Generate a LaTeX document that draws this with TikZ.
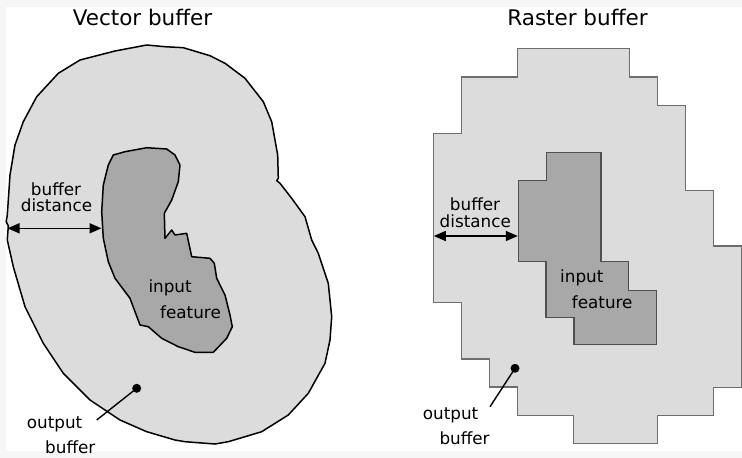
\documentclass[tikz,border=0pt]{standalone}
\usepackage{fontspec}
\setmainfont{DejaVu Sans}
\usetikzlibrary{arrows.meta}

\definecolor{bufferfill}{HTML}{DCDCDC}
\definecolor{featurefill}{HTML}{A8A8A8}
\definecolor{cellline}{HTML}{6E6E6E}
\definecolor{featureline}{HTML}{505050}
\definecolor{frameband}{HTML}{F6F6F6}

\tikzset{
  handline/.style={draw=black, line width=1.5pt, line join=round},
  outerblob/.style={handline, fill=bufferfill},
  innerblob/.style={handline, fill=featurefill},
  outercells/.style={draw=cellline, line width=1.2pt, fill=bufferfill, line join=miter},
  innercells/.style={draw=featureline, line width=1.2pt, fill=featurefill, line join=miter},
  heading/.style={font=\fontsize{21.5}{24}\selectfont, inner sep=0pt, anchor=base},
  lbl/.style={font=\fontsize{16.8}{18}\selectfont, inner sep=0pt},
  dimarrow/.style={line width=1.5pt, {Triangle[length=12pt,width=10pt]}-{Triangle[length=12pt,width=10pt]}},
  leader/.style={line width=1.4pt},
  dotmark/.style={circle, fill=black, inner sep=0pt, minimum size=9pt},
}

\begin{document}
\begin{tikzpicture}[x=1pt, y=-1pt]
  % page with its faint border band
  \fill[frameband] (0,0) rectangle (742,458);
  \fill[white] (6,7) rectangle (742,451);
  \useasboundingbox (0,0) rectangle (742,458);

  % ---------- vector buffer ----------
  \node[heading] (vtitle) at (142.5,25) {Vector buffer};

  \draw[outerblob]
    (146.7,45) -- (115,51) -- (80,60) -- (58.3,73.3) -- (36.7,96.7)
    -- (23.3,121.7) -- (15,145) -- (10,175) -- (7.3,215) -- (6.2,221.7)
    -- (8.3,226) -- (7.3,240) -- (13.3,266.7) -- (25,306.7) -- (43.3,343.3)
    -- (63.3,373.3) -- (90,400) -- (120,420) -- (146.7,431.7) -- (175,440)
    -- (185,441.7) -- (215,444) -- (228.3,441.7) -- (261.7,431.7)
    -- (288.3,415) -- (308.3,393.3) -- (325,363.3) -- (330,340)
    -- (331.7,316.7) -- (328.3,283.3) -- (318.3,253.3) -- (311.7,240)
    -- (305,216.7) -- (291.7,198.3) -- (280,183.3) -- (276.7,180.7)
    -- (278.3,178.3) -- (277.7,155) -- (271.7,121.7) -- (263.3,101.7)
    -- (245,78.3) -- (225,63.3) -- (210,55.7) -- (183.3,47.7) -- (165,46.7)
    -- cycle;

  \draw[innerblob]
    (113.3,155) -- (125,151.7) -- (146.7,147.7) -- (166.7,149) -- (175,155)
    -- (180,165) -- (178.3,181.7) -- (171.7,200) -- (164.3,213.3)
    -- (165,238.3) -- (171.7,230) -- (175,235) -- (186.7,233.3)
    -- (191.7,256.7) -- (210,258.3) -- (214.3,263.3) -- (216.7,278.3)
    -- (225,295) -- (230,315) -- (232.3,326.7) -- (226.7,338.3)
    -- (213.3,352.3) -- (195,352.3) -- (178.3,346.7) -- (161.7,338.3)
    -- (148.3,326.7) -- (140,325) -- (135,311.7) -- (130,298.3)
    -- (115,278.3) -- (108.3,261.7) -- (103.3,238.3) -- (101.7,211.7)
    -- (103.3,185) -- (108.3,165) -- cycle;

  \node[lbl, anchor=base] (vdist1) at (56,195) {buffer};
  \node[lbl, anchor=base] (vdist2) at (56.5,211.7) {distance};
  \coordinate (vdimL) at (7.5,228.3);
  \coordinate (vdimR) at (101.5,228.3);
  \draw[dimarrow] (vdimL) -- (vdimR);

  \node[lbl, anchor=base west] (vin1) at (148.3,292.7) {input};
  \node[lbl, anchor=base west] (vin2) at (160,318.3) {feature};

  \node[dotmark] (vdot) at (136.7,388.3) {};
  \coordinate (vlead) at (96.7,420);
  \draw[leader] (vdot.center) -- (vlead);
  \node[lbl, anchor=base west] (vout1) at (26.7,428.3) {output};
  \node[lbl, anchor=base west] (vout2) at (45,453.3) {buffer};

  % ---------- raster buffer ----------
  \node[heading] (rtitle) at (577.5,25) {Raster buffer};

  \draw[outercells]
    (517.3,48.5) -- (629.3,48.5) -- (629.3,77) -- (657.3,77) -- (657.3,105.5)
    -- (685.3,105.5) -- (685.3,190.3) -- (713.3,190.3) -- (713.3,246)
    -- (741.3,246) -- (741.3,387.3) -- (713.3,387.3) -- (713.3,415.7)
    -- (657.3,415.7) -- (657.3,443.7) -- (573.3,443.7) -- (573.3,415.7)
    -- (517.3,415.7) -- (517.3,387) -- (489.3,387) -- (489.3,359)
    -- (461.3,359) -- (461.3,302.7) -- (433.3,302.7) -- (433.3,133.7)
    -- (461.3,133.7) -- (461.3,77) -- (517.3,77) -- cycle;

  \draw[innercells]
    (546.7,152.7) -- (601,152.7) -- (601,261.7) -- (628.7,261.7)
    -- (628.7,290.3) -- (656.7,290.3) -- (656.7,344.3) -- (574,344.3)
    -- (574,317.3) -- (546,317.3) -- (546,261.7) -- (518.3,261.7)
    -- (518.3,180.3) -- (546.7,180.3) -- cycle;

  \node[lbl, anchor=base] (rdist1) at (475,210.7) {buffer};
  \node[lbl, anchor=base] (rdist2) at (475.3,227.3) {distance};
  \coordinate (rdimL) at (433.8,236);
  \coordinate (rdimR) at (517.8,236);
  \draw[dimarrow] (rdimL) -- (rdimR);

  \node[lbl, anchor=base west] (rin1) at (560,282.3) {input};
  \node[lbl, anchor=base west] (rin2) at (571.7,308.3) {feature};

  \node[dotmark] (rdot) at (515,368.3) {};
  \coordinate (rlead) at (490,406.7);
  \draw[leader] (rdot.center) -- (rlead);
  \node[lbl, anchor=base west] (rout1) at (422.7,419.3) {output};
  \node[lbl, anchor=base west] (rout2) at (439.3,444) {buffer};
\end{tikzpicture}
\end{document}
